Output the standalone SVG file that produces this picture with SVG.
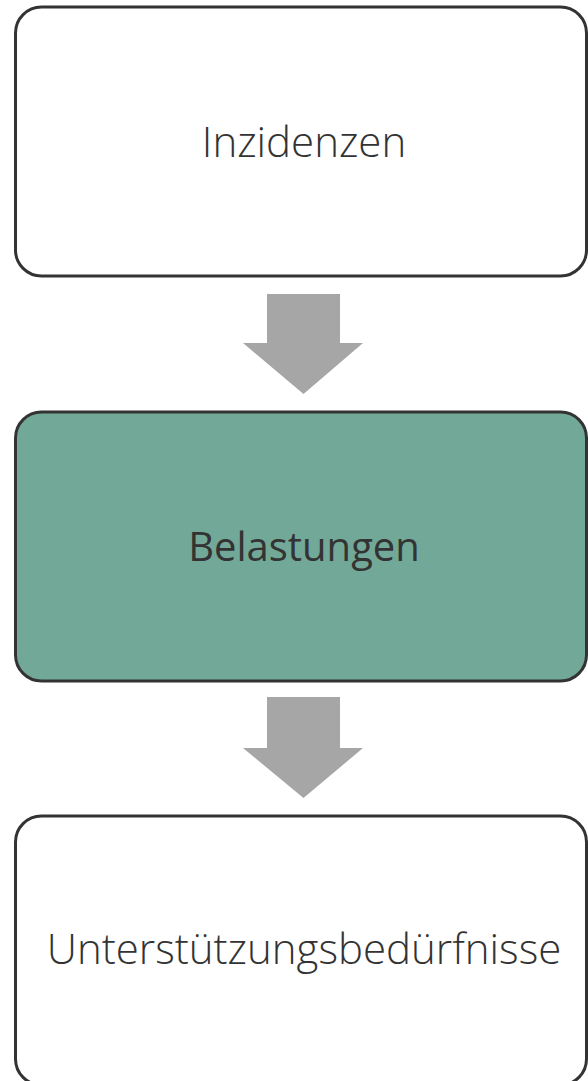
<svg xmlns="http://www.w3.org/2000/svg" width="588" height="1081" viewBox="0 0 588 1081">
<style>
.box{stroke:#333;stroke-width:3;}
.w{fill:#fff;}
.g{fill:#72a898;}
.t{font-family:"Open Sans","Liberation Sans",sans-serif;font-size:40px;text-anchor:middle;fill:#333;}
.l{font-weight:300;font-size:42px;}
.arr{fill:#a6a6a6;}
</style>
<rect width="588" height="1081" fill="#fff"/>
<g id="connectors">
<polygon class="arr" points="267,294 340,294 340,343 363,343 303.5,394 243,343 267,343"/>
<polygon class="arr" points="267,697 340,697 340,748 363,748 303.5,798 243,748 267,748"/>
</g>
<g id="node-inzidenzen">
<rect class="box w" x="15.5" y="7" width="571" height="269" rx="26"/>
<text class="t l" x="304" y="157">Inzidenzen</text>
</g>
<g id="node-belastungen">
<rect class="box g" x="15.5" y="412" width="571" height="269" rx="26"/>
<text class="t" x="304" y="561">Belastungen</text>
</g>
<g id="node-unterstuetzung">
<rect class="box w" x="15.5" y="816" width="571" height="269" rx="26"/>
<text class="t l" x="304" y="964">Unterstützungsbedürfnisse</text>
</g>
</svg>
